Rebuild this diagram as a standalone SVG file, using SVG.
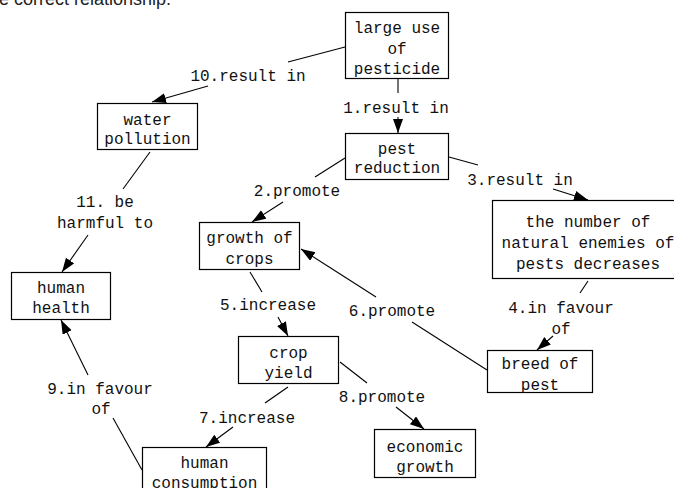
<svg xmlns="http://www.w3.org/2000/svg" width="674" height="488" viewBox="0 0 674 488">
<defs>
<marker id="arr" markerUnits="userSpaceOnUse" markerWidth="16" markerHeight="12" refX="14" refY="5" orient="auto">
<path d="M0,0 L14,5 L0,10 Z" fill="#000"/>
</marker>
<style>
.box{fill:#fff;stroke:#000;stroke-width:1.2}
.t{font-family:"Liberation Mono","DejaVu Sans Mono",monospace;font-size:16px;fill:#111;text-anchor:middle}
.e line{stroke:#000;stroke-width:1.1}
.a{marker-end:url(#arr)}
.hdr{font-family:"Liberation Sans",Arial,sans-serif;font-size:18px;fill:#222}
</style>
</defs>
<rect width="674" height="488" fill="#fff"/>
<text class="hdr" x="-1" y="5">e correct relationship.</text>

<g id="connectors" class="e">
<line x1="345" y1="47" x2="288" y2="62"/>
<line class="a" x1="208" y1="86" x2="152" y2="102"/>
<line x1="398" y1="79" x2="398" y2="93"/>
<line class="a" x1="398" y1="117" x2="398" y2="133"/>
<line x1="345" y1="158" x2="315" y2="177"/>
<line class="a" x1="283" y1="202" x2="252" y2="222"/>
<line x1="449" y1="157" x2="478" y2="165"/>
<line class="a" x1="553" y1="189" x2="588" y2="200"/>
<line x1="588" y1="281" x2="580" y2="293"/>
<line class="a" x1="553" y1="336" x2="537" y2="350"/>
<line x1="487" y1="370" x2="412" y2="322"/>
<line class="a" x1="376" y1="297" x2="301" y2="249"/>
<line x1="250" y1="272" x2="262" y2="292"/>
<line class="a" x1="278" y1="317" x2="288" y2="336"/>
<line x1="288" y1="387" x2="265" y2="403"/>
<line class="a" x1="233" y1="427" x2="206" y2="447"/>
<line x1="340" y1="362" x2="367" y2="383"/>
<line class="a" x1="396" y1="407" x2="424" y2="429"/>
<line x1="142" y1="470" x2="113" y2="418"/>
<line class="a" x1="88" y1="375" x2="61" y2="320"/>
<line x1="150" y1="152" x2="123" y2="189"/>
<line class="a" x1="88" y1="235" x2="62" y2="272"/>
</g>

<g id="labels">
<text class="t" x="248" y="81">10.result in</text>
<text class="t" x="396" y="113">1.result in</text>
<text class="t" x="297" y="196">2.promote</text>
<text class="t" x="520" y="185">3.result in</text>
<text class="t" x="561" y="313">4.in favour</text>
<text class="t" x="561" y="334">of</text>
<text class="t" x="268" y="310">5.increase</text>
<text class="t" x="392" y="316">6.promote</text>
<text class="t" x="247" y="423">7.increase</text>
<text class="t" x="382" y="402">8.promote</text>
<text class="t" x="100" y="394">9.in favour</text>
<text class="t" x="101" y="414">of</text>
<text class="t" x="105" y="207">11. be</text>
<text class="t" x="105" y="228">harmful to</text>
</g>

<g id="n-pesticide">
<rect class="box" x="345.5" y="12.5" width="103" height="66"/>
<text class="t" x="397" y="33">large use</text>
<text class="t" x="397" y="53.5">of</text>
<text class="t" x="397" y="74">pesticide</text>
</g>
<g id="n-water">
<rect class="box" x="97.5" y="103.5" width="100" height="46"/>
<text class="t" x="147.5" y="125">water</text>
<text class="t" x="147.5" y="144">pollution</text>
</g>
<g id="n-pest">
<rect class="box" x="345.5" y="133.5" width="103" height="46"/>
<text class="t" x="397" y="154">pest</text>
<text class="t" x="397" y="173">reduction</text>
</g>
<g id="n-growth">
<rect class="box" x="199.5" y="222.5" width="100" height="47"/>
<text class="t" x="249.5" y="243">growth of</text>
<text class="t" x="249.5" y="264">crops</text>
</g>
<g id="n-enemies">
<rect class="box" x="492.5" y="200.5" width="200" height="78"/>
<text class="t" x="588" y="227">the number of</text>
<text class="t" x="588" y="248">natural enemies of</text>
<text class="t" x="588" y="269">pests decreases</text>
</g>
<g id="n-breed">
<rect class="box" x="487.5" y="350.5" width="105" height="42"/>
<text class="t" x="540" y="369">breed of</text>
<text class="t" x="540" y="390">pest</text>
</g>
<g id="n-health">
<rect class="box" x="11.5" y="272.5" width="99" height="47"/>
<text class="t" x="61" y="293">human</text>
<text class="t" x="61" y="313">health</text>
</g>
<g id="n-yield">
<rect class="box" x="238.5" y="336.5" width="100" height="47"/>
<text class="t" x="288.5" y="358">crop</text>
<text class="t" x="288.5" y="378">yield</text>
</g>
<g id="n-consumption">
<rect class="box" x="142.5" y="447.5" width="124" height="50"/>
<text class="t" x="204.5" y="468">human</text>
<text class="t" x="204.5" y="488">consumption</text>
</g>
<g id="n-economic">
<rect class="box" x="374.5" y="429.5" width="101" height="48"/>
<text class="t" x="425" y="452">economic</text>
<text class="t" x="425" y="472">growth</text>
</g>
</svg>
